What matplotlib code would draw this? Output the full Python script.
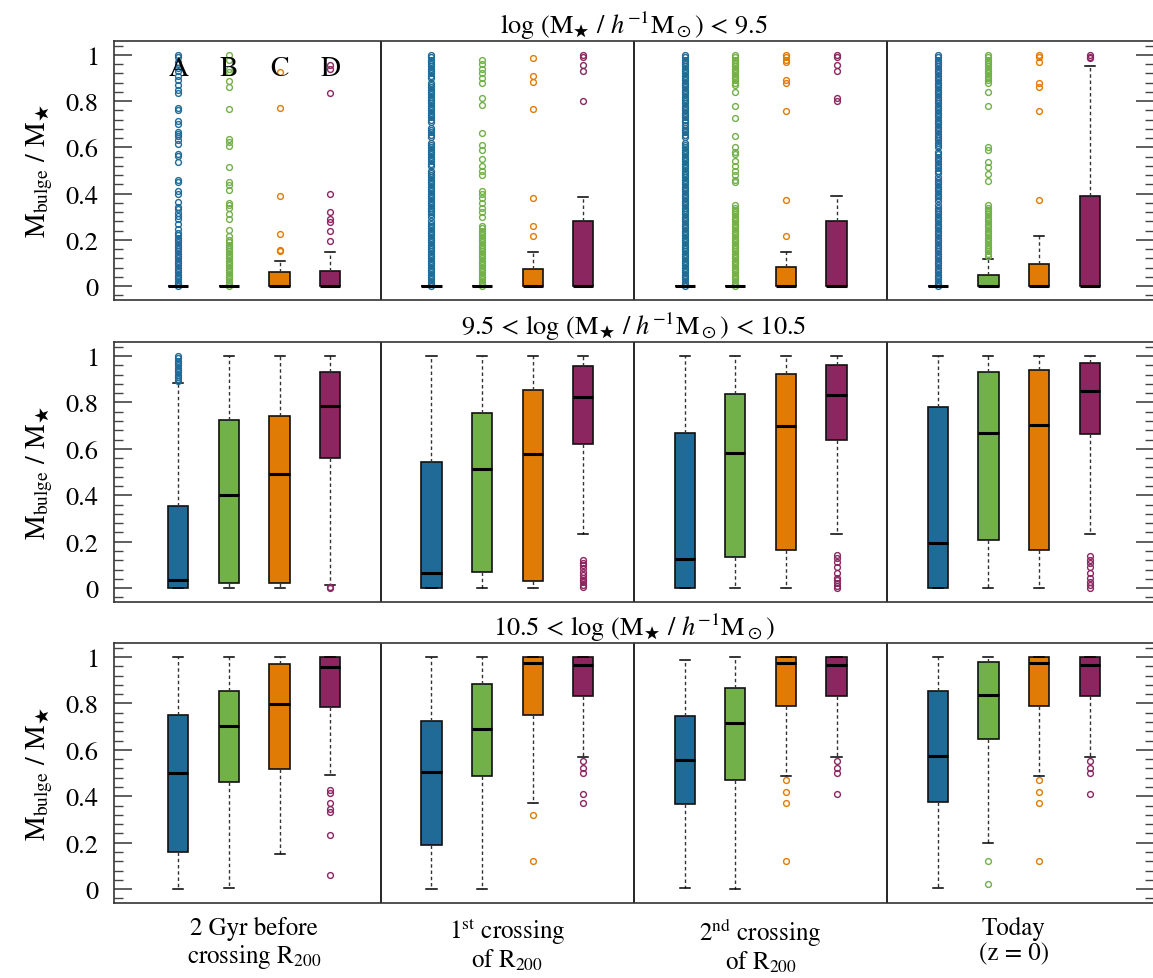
import matplotlib
matplotlib.use('Agg')
import matplotlib.pyplot as plt
from matplotlib.ticker import MultipleLocator

plt.rcParams['font.family'] = 'STIXGeneral'
plt.rcParams['mathtext.fontset'] = 'stix'

COLORS = ['#1f6a96', '#72b04a', '#e07b06', '#8c2660']
CATEGORIES = ['A', 'B', 'C', 'D']
STAGES = ['2 Gyr before\ncrossing R$_{200}$', '1$^{\\rm st}$ crossing\nof R$_{200}$',
          '2$^{\\rm nd}$ crossing\nof R$_{200}$', 'Today\n(z = 0)']
ROW_TITLES = ['log (M$_\\bigstar$ / $h^{-1}$M$_\\odot$) < 9.5',
              '9.5 < log (M$_\\bigstar$ / $h^{-1}$M$_\\odot$) < 10.5',
              '10.5 < log (M$_\\bigstar$ / $h^{-1}$M$_\\odot$)']

# box stats, index = stage*4 + category (A, B, C, D)
# ---- row 1: log M < 9.5 ----
LOW_WHISLO = [0, 0, 0, 0,  0, 0, 0, 0,  0, 0, 0, 0,  0, 0, 0, 0]
LOW_Q1 = [0, 0, 0, 0,  0, 0, 0, 0,  0, 0, 0, 0,  0, 0, 0, 0]
LOW_MED = [0, 0, 0, 0,  0, 0, 0, 0,  0, 0, 0, 0,  0, 0, 0, 0]
LOW_Q3 = [0, 0, 0.062, 0.066,  0, 0, 0.074, 0.281,  0, 0, 0.081, 0.281,  0, 0.048, 0.094, 0.391]
LOW_WHISHI = [0, 0, 0.11, 0.148,  0, 0, 0.146, 0.387,  0, 0, 0.146, 0.391,  0, 0.117, 0.215, 0.954]
LOW_FLIERS = [
    # 2 Gyr before
    [0.0, 0.01, 0.02, 0.03, 0.04, 0.05, 0.06, 0.07, 0.08, 0.09, 0.10, 0.11, 0.12, 0.13, 0.14,
     0.15, 0.16, 0.17, 0.18, 0.19, 0.20, 0.21, 0.22, 0.23, 0.247, 0.268, 0.29, 0.304, 0.318,
     0.333, 0.344, 0.364, 0.40, 0.41, 0.449, 0.459, 0.538, 0.564, 0.571, 0.614, 0.633, 0.648,
     0.657, 0.667, 0.70, 0.715, 0.76, 0.772, 0.835, 0.85, 0.87, 0.89, 0.91, 0.93, 0.945,
     0.96, 0.97, 0.99, 1.0],
    [0.0, 0.01, 0.02, 0.03, 0.04, 0.05, 0.06, 0.07, 0.08, 0.09, 0.10, 0.11, 0.12, 0.13, 0.14,
     0.15, 0.16, 0.17, 0.18, 0.19, 0.20, 0.215, 0.244, 0.29, 0.312, 0.336, 0.35, 0.359, 0.417,
     0.438, 0.451, 0.516, 0.607, 0.625, 0.636, 0.766, 0.86, 0.889, 0.928, 0.939, 0.98, 1.0],
    [0.153, 0.157, 0.224, 0.39, 0.772, 0.928],
    [0.196, 0.237, 0.278, 0.29, 0.319, 0.398, 0.834, 0.937, 0.957],
    # 1st crossing
    [0.0, 0.01, 0.02, 0.03, 0.04, 0.05, 0.06, 0.07, 0.08, 0.09, 0.10, 0.11, 0.12, 0.13, 0.14,
     0.15, 0.16, 0.17, 0.18, 0.19, 0.20, 0.21, 0.22, 0.23, 0.24, 0.25, 0.26, 0.27, 0.28, 0.30,
     0.31, 0.32, 0.33, 0.34, 0.35, 0.36, 0.37, 0.38, 0.39, 0.40, 0.41, 0.42, 0.43, 0.44, 0.45,
     0.46, 0.47, 0.48, 0.49, 0.50, 0.52, 0.53, 0.54, 0.55, 0.56, 0.57, 0.58, 0.59, 0.60, 0.61,
     0.62, 0.645, 0.655, 0.665, 0.675, 0.685, 0.71, 0.72, 0.73, 0.74, 0.75, 0.76, 0.77, 0.78,
     0.79, 0.80, 0.81, 0.82, 0.83, 0.84, 0.85, 0.86, 0.87, 0.88, 0.90, 0.91, 0.92, 0.93, 0.94,
     0.95, 0.96, 0.97, 0.98, 0.99, 1.0],
    [0.0, 0.01, 0.02, 0.03, 0.04, 0.05, 0.06, 0.07, 0.08, 0.09, 0.10, 0.11, 0.12, 0.13, 0.14,
     0.15, 0.16, 0.17, 0.18, 0.19, 0.20, 0.21, 0.22, 0.23, 0.24, 0.25, 0.26, 0.30, 0.32, 0.34,
     0.36, 0.38, 0.40, 0.41, 0.48, 0.50, 0.52, 0.55, 0.59, 0.61, 0.662, 0.784, 0.814, 0.88,
     0.90, 0.92, 0.94, 0.96, 0.98],
    [0.218, 0.261, 0.38, 0.766, 0.884, 0.908, 0.986],
    [0.80, 0.93, 0.955, 0.99, 1.0],
    # 2nd crossing
    [0.0, 0.01, 0.02, 0.03, 0.04, 0.05, 0.06, 0.07, 0.08, 0.09, 0.10, 0.11, 0.12, 0.13, 0.14,
     0.15, 0.16, 0.17, 0.18, 0.19, 0.20, 0.21, 0.22, 0.23, 0.24, 0.25, 0.26, 0.27, 0.28, 0.29,
     0.30, 0.31, 0.32, 0.33, 0.34, 0.35, 0.36, 0.37, 0.38, 0.39, 0.40, 0.41, 0.42, 0.43, 0.44,
     0.45, 0.46, 0.47, 0.48, 0.49, 0.50, 0.51, 0.52, 0.53, 0.54, 0.55, 0.56, 0.57, 0.58, 0.59,
     0.60, 0.61, 0.62, 0.645, 0.655, 0.665, 0.675, 0.685, 0.695, 0.71, 0.72, 0.73, 0.74, 0.75,
     0.76, 0.77, 0.78, 0.79, 0.80, 0.81, 0.82, 0.83, 0.84, 0.85, 0.86, 0.87, 0.88, 0.89, 0.90,
     0.91, 0.92, 0.93, 0.94, 0.95, 0.96, 0.97, 0.98, 0.99, 1.0],
    [0.0, 0.01, 0.02, 0.03, 0.04, 0.05, 0.06, 0.07, 0.08, 0.09, 0.10, 0.11, 0.12, 0.13, 0.14,
     0.15, 0.16, 0.17, 0.18, 0.19, 0.20, 0.21, 0.22, 0.23, 0.24, 0.25, 0.26, 0.27, 0.28, 0.29,
     0.30, 0.31, 0.32, 0.33, 0.34, 0.35, 0.45, 0.46, 0.48, 0.50, 0.52, 0.54, 0.57, 0.58, 0.60,
     0.648, 0.726, 0.778, 0.841, 0.87, 0.88, 0.89, 0.90, 0.91, 0.92, 0.93, 0.94, 0.95, 0.96,
     0.97, 0.98, 0.99, 1.0],
    [0.215, 0.372, 0.758, 0.88, 0.89, 0.97, 0.98, 0.99, 1.0],
    [0.80, 0.815, 0.93, 0.955, 0.99, 1.0],
    # today
    [0.0, 0.01, 0.02, 0.03, 0.04, 0.05, 0.06, 0.07, 0.08, 0.09, 0.10, 0.11, 0.12, 0.13, 0.14,
     0.15, 0.16, 0.17, 0.18, 0.19, 0.20, 0.21, 0.22, 0.23, 0.24, 0.25, 0.26, 0.27, 0.28, 0.29,
     0.30, 0.31, 0.32, 0.33, 0.34, 0.35, 0.37, 0.38, 0.39, 0.40, 0.41, 0.42, 0.43, 0.44, 0.45,
     0.46, 0.47, 0.49, 0.50, 0.51, 0.52, 0.53, 0.54, 0.55, 0.56, 0.57, 0.58, 0.60, 0.61, 0.62,
     0.63, 0.64, 0.65, 0.66, 0.67, 0.68, 0.69, 0.70, 0.71, 0.72, 0.73, 0.74, 0.75, 0.76, 0.77,
     0.78, 0.79, 0.80, 0.81, 0.82, 0.83, 0.84, 0.85, 0.86, 0.87, 0.88, 0.89, 0.90, 0.91, 0.92,
     0.93, 0.94, 0.95, 0.96, 0.97, 0.98, 0.99, 1.0],
    [0.13, 0.14, 0.15, 0.16, 0.17, 0.18, 0.19, 0.20, 0.21, 0.22, 0.23, 0.24, 0.25, 0.26, 0.27,
     0.28, 0.29, 0.30, 0.31, 0.32, 0.33, 0.34, 0.35, 0.456, 0.485, 0.514, 0.536, 0.59, 0.60,
     0.78, 0.838, 0.88, 0.89, 0.90, 0.91, 0.92, 0.93, 0.94, 0.95, 0.96, 0.97, 0.98, 0.99, 1.0],
    [0.372, 0.759, 0.86, 0.88, 0.97, 0.99, 1.0],
    [0.985, 0.99, 1.0],
]

# ---- row 2: 9.5 < log M < 10.5 ----
MID_WHISLO = [0, 0, 0, 0.012,  0, 0, 0, 0.232,  0, 0, 0, 0.232,  0, 0, 0, 0.232]
MID_Q1 = [0, 0.02, 0.02, 0.56,  0, 0.069, 0.032, 0.622,  0, 0.133, 0.165, 0.639,  0, 0.208, 0.165, 0.665]
MID_MED = [0.035, 0.40, 0.49, 0.785,  0.063, 0.511, 0.577, 0.824,  0.124, 0.583, 0.697, 0.831,  0.195, 0.67, 0.704, 0.847]
MID_Q3 = [0.355, 0.725, 0.74, 0.93,  0.544, 0.756, 0.853, 0.955,  0.67, 0.834, 0.922, 0.962,  0.778, 0.929, 0.938, 0.968]
MID_WHISHI = [0.885, 1, 1, 1,  1, 1, 1, 1,  1, 1, 1, 1,  1, 1, 1, 1]
MID_FLIERS = [
    [0.89, 0.90, 0.91, 0.92, 0.93, 0.94, 0.95, 0.96, 0.97, 0.98, 0.99, 1.0], [], [], [0.0, 0.005],
    [], [], [], [0.12, 0.11, 0.10, 0.085, 0.07, 0.055, 0.045, 0.035, 0.025, 0.015, 0.005],
    [], [], [], [0.143, 0.128, 0.114, 0.092, 0.063, 0.045, 0.035, 0.02, 0.01, 0.0],
    [], [], [], [0.138, 0.121, 0.107, 0.089, 0.063, 0.045, 0.027, 0.013, 0.0],
]

# ---- row 3: log M > 10.5 ----
HIGH_WHISLO = [0, 0.003, 0.153, 0.493,  0, 0, 0.37, 0.57,  0.005, 0, 0.485, 0.57,  0.005, 0.2, 0.485, 0.57]
HIGH_Q1 = [0.161, 0.463, 0.517, 0.786,  0.19, 0.485, 0.75, 0.83,  0.365, 0.47, 0.79, 0.83,  0.375, 0.645, 0.79, 0.83]
HIGH_MED = [0.499, 0.702, 0.796, 0.957,  0.505, 0.69, 0.975, 0.965,  0.555, 0.715, 0.975, 0.965,  0.575, 0.835, 0.975, 0.965]
HIGH_Q3 = [0.752, 0.855, 0.968, 1.0,  0.725, 0.885, 1.0, 1.0,  0.745, 0.865, 1.0, 1.0,  0.855, 0.98, 1.0, 1.0]
HIGH_WHISHI = [1, 1, 1, 1,  1, 1, 1, 1,  0.985, 1, 1, 1,  1, 1, 1, 1]
HIGH_FLIERS = [
    [], [], [], [0.428, 0.414, 0.370, 0.347, 0.333, 0.234, 0.061],
    [], [], [0.32, 0.12], [0.55, 0.52, 0.50, 0.41, 0.37],
    [], [], [0.47, 0.42, 0.37, 0.12], [0.55, 0.52, 0.50, 0.41],
    [], [0.12, 0.02], [0.47, 0.42, 0.37, 0.12], [0.55, 0.52, 0.50, 0.41],
]

ROWS = [
    (LOW_WHISLO, LOW_Q1, LOW_MED, LOW_Q3, LOW_WHISHI, LOW_FLIERS),
    (MID_WHISLO, MID_Q1, MID_MED, MID_Q3, MID_WHISHI, MID_FLIERS),
    (HIGH_WHISLO, HIGH_Q1, HIGH_MED, HIGH_Q3, HIGH_WHISHI, HIGH_FLIERS),
]

fig = plt.figure(figsize=(11.53, 9.79), dpi=100)
left, width = 114 / 1153, 1040 / 1153
row_px = [(42, 301), (343, 603), (644, 904)]

for r, (wlo, q1, med, q3, whi, fl) in enumerate(ROWS):
    top, bot = row_px[r]
    ax = fig.add_axes([left, 1 - bot / 979, width, (bot - top) / 979])
    for i in range(16):
        g, c = divmod(i, 4)
        pos = 5 * g + c + 1
        stats = [dict(whislo=wlo[i], q1=q1[i], med=med[i], q3=q3[i], whishi=whi[i], fliers=fl[i])]
        col = COLORS[c]
        ax.bxp(stats, positions=[pos], widths=0.4, capwidths=0.2, patch_artist=True,
               boxprops=dict(facecolor=col, edgecolor='#111111', linewidth=1.2),
               medianprops=dict(color='black', linewidth=2.2),
               whiskerprops=dict(color='#333333', linewidth=1, linestyle=(0, (2.5, 2))),
               capprops=dict(color='black', linewidth=1.1),
               flierprops=dict(marker='o', markerfacecolor='none', markeredgecolor=col,
                               markersize=4.2, markeredgewidth=1.0))
    for xs in (5, 10, 15):
        ax.axvline(xs, color='black', linewidth=1.2)
    ax.set_xlim(-0.27, 20.27)
    ax.set_ylim(-0.06, 1.06)
    ax.yaxis.set_minor_locator(MultipleLocator(0.04))
    ax.set_yticks([0, 0.2, 0.4, 0.6, 0.8, 1.0])
    ax.set_yticklabels(['0', '0.2', '0.4', '0.6', '0.8', '1'])
    ax.tick_params(axis='y', which='both', direction='in', left=True, right=True,
                   color='#444444', labelsize=19, pad=11)
    ax.tick_params(axis='y', which='major', length=13, width=1.2)
    ax.tick_params(axis='y', which='minor', length=6.5, width=1.0)
    for sp in ax.spines.values():
        sp.set_color('#333333')
        sp.set_linewidth(1.2)
    ax.set_ylabel('M$_{\\rm bulge}$ / M$_\\bigstar$', fontsize=20, labelpad=8)
    ax.set_title(ROW_TITLES[r], fontsize=19, pad=5)
    if r == 2:
        ax.set_xticks([2.5, 7.5, 12.5, 17.5])
        ax.set_xticklabels(STAGES, fontsize=18, linespacing=1.1)
        ax.tick_params(axis='x', length=0, pad=9)
    else:
        ax.set_xticks([])
    if r == 0:
        for c, lab in enumerate(CATEGORIES):
            ax.text(c + 1, 0.94, lab, ha='center', va='center', fontsize=20)

fig.savefig('out.png', dpi=100)
